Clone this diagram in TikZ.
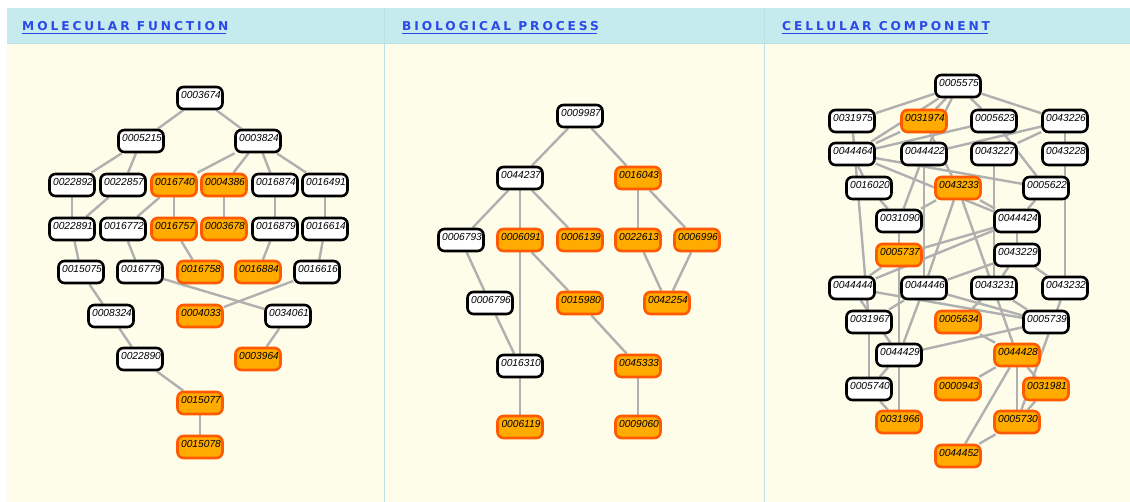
\documentclass[tikz,border=0pt]{standalone}
\usepackage{fontspec}
\setmainfont{Liberation Sans}
\newfontfamily\hdrfont[LetterSpace=24]{DejaVu Sans}

\pgfdeclarelayer{panel}
\pgfdeclarelayer{links}
\pgfsetlayers{panel,links,main}

\definecolor{hdrbg}{HTML}{C6EBEE}
\definecolor{bodybg}{HTML}{FDFDEA}
\definecolor{rulecol}{HTML}{BCE2E7}
\definecolor{linkblue}{HTML}{2B48E8}
\definecolor{edgegray}{HTML}{B0B0B0}
\definecolor{hitfill}{HTML}{FFAB00}
\definecolor{hitedge}{HTML}{FF5A00}

\tikzset{
  gobox/.style={rectangle, rounded corners=6pt, minimum width=45pt,
    minimum height=22pt, inner sep=0pt, line width=2.6pt},
  wbox/.style={gobox, draw=black, fill=white},
  obox/.style={gobox, draw=hitedge, fill=hitfill},
  golabel/.style={font=\fontsize{10.2}{11}\selectfont\itshape,
    inner sep=0pt, xshift=1pt, yshift=3.5pt},
  link/.style={draw=edgegray, line width=2.4pt},
  hdr/.style={font=\hdrfont\bfseries\fontsize{12.2}{14}\selectfont,
    text=linkblue, inner sep=0pt, anchor=base west},
  hdrline/.style={draw=linkblue, line width=1pt},
}

% \gonode{style}{panel prefix}{GO id}{x}{y}
\newcommand{\gonode}[5]{\node[#1, label={[golabel]center:#3}] (#2#3) at (#4,#5) {};}

\begin{document}
\begin{tikzpicture}[x=1pt,y=-1pt]
\useasboundingbox (0,0) rectangle (1130,502);

% ---------- panels ----------
\begin{pgfonlayer}{panel}
  \fill[white] (0,0) rectangle (1130,502);
  \fill[bodybg] (7,44) rectangle (1130,502);
  \fill[hdrbg] (7,8) rectangle (1130,44);
  \draw[rulecol, line width=1pt] (7,44) -- (1130,44);
  \draw[rulecol, line width=1pt] (384,8) -- (384,502);
  \draw[rulecol, line width=1pt] (764,8) -- (764,502);
\end{pgfonlayer}

\node[hdr] (hmf) at (22,31) {MOLECULAR FUNCTION};
\node[hdr] (hbp) at (402,31) {BIOLOGICAL PROCESS};
\node[hdr] (hcc) at (782,31) {CELLULAR COMPONENT};
\foreach \h in {hmf,hbp,hcc}
  \draw[hdrline] ([yshift=-2.5pt]\h.base west) -- ([yshift=-2.5pt,xshift=-2.5pt]\h.base east);

% ---------- molecular function ----------
\gonode{wbox}{mf}{0003674}{200}{98}
\gonode{wbox}{mf}{0005215}{141}{141}
\gonode{wbox}{mf}{0003824}{258}{141}
\gonode{wbox}{mf}{0022892}{72}{185}
\gonode{wbox}{mf}{0022857}{123}{185}
\gonode{obox}{mf}{0016740}{174}{185}
\gonode{obox}{mf}{0004386}{224}{185}
\gonode{wbox}{mf}{0016874}{275}{185}
\gonode{wbox}{mf}{0016491}{325}{185}
\gonode{wbox}{mf}{0022891}{72}{229}
\gonode{wbox}{mf}{0016772}{123}{229}
\gonode{obox}{mf}{0016757}{174}{229}
\gonode{obox}{mf}{0003678}{224}{229}
\gonode{wbox}{mf}{0016879}{275}{229}
\gonode{wbox}{mf}{0016614}{325}{229}
\gonode{wbox}{mf}{0015075}{81}{272}
\gonode{wbox}{mf}{0016779}{140}{272}
\gonode{obox}{mf}{0016758}{200}{272}
\gonode{obox}{mf}{0016884}{258}{272}
\gonode{wbox}{mf}{0016616}{317}{272}
\gonode{wbox}{mf}{0008324}{111}{316}
\gonode{obox}{mf}{0004033}{200}{316}
\gonode{wbox}{mf}{0034061}{288}{316}
\gonode{wbox}{mf}{0022890}{140}{359}
\gonode{obox}{mf}{0003964}{258}{359}
\gonode{obox}{mf}{0015077}{200}{403}
\gonode{obox}{mf}{0015078}{200}{447}

\begin{pgfonlayer}{links}
\foreach \a/\b in {0003674/0005215, 0003674/0003824,
    0005215/0022892, 0005215/0022857,
    0003824/0016740, 0003824/0004386, 0003824/0016874, 0003824/0016491,
    0022892/0022891, 0022857/0022891,
    0016740/0016772, 0016740/0016757,
    0004386/0003678, 0016874/0016879, 0016491/0016614,
    0022891/0015075, 0016772/0016779, 0016757/0016758,
    0016879/0016884, 0016614/0016616,
    0015075/0008324, 0016779/0034061, 0016616/0004033,
    0008324/0022890, 0034061/0003964,
    0022890/0015077, 0015077/0015078}
  \draw[link] (mf\a) -- (mf\b);
\end{pgfonlayer}

% ---------- biological process ----------
\gonode{wbox}{bp}{0009987}{580}{116}
\gonode{wbox}{bp}{0044237}{520}{178}
\gonode{obox}{bp}{0016043}{638}{178}
\gonode{wbox}{bp}{0006793}{461}{240}
\gonode{obox}{bp}{0006091}{520}{240}
\gonode{obox}{bp}{0006139}{580}{240}
\gonode{obox}{bp}{0022613}{638}{240}
\gonode{obox}{bp}{0006996}{697}{240}
\gonode{wbox}{bp}{0006796}{490}{303}
\gonode{obox}{bp}{0015980}{580}{303}
\gonode{obox}{bp}{0042254}{667}{303}
\gonode{wbox}{bp}{0016310}{520}{366}
\gonode{obox}{bp}{0045333}{638}{366}
\gonode{obox}{bp}{0006119}{520}{427}
\gonode{obox}{bp}{0009060}{638}{427}

\begin{pgfonlayer}{links}
\foreach \a/\b in {0009987/0044237, 0009987/0016043,
    0044237/0006793, 0044237/0006091, 0044237/0006139,
    0016043/0022613, 0016043/0006996,
    0006793/0006796, 0006091/0016310, 0006796/0016310, 0006091/0015980,
    0022613/0042254, 0006996/0042254,
    0015980/0045333, 0016310/0006119, 0045333/0009060}
  \draw[link] (bp\a) -- (bp\b);
\end{pgfonlayer}

% ---------- cellular component ----------
\gonode{wbox}{cc}{0005575}{958}{86}
\gonode{wbox}{cc}{0031975}{852}{121}
\gonode{obox}{cc}{0031974}{924}{121}
\gonode{wbox}{cc}{0005623}{994}{121}
\gonode{wbox}{cc}{0043226}{1065}{121}
\gonode{wbox}{cc}{0044464}{852}{154}
\gonode{wbox}{cc}{0044422}{924}{154}
\gonode{wbox}{cc}{0043227}{994}{154}
\gonode{wbox}{cc}{0043228}{1065}{154}
\gonode{wbox}{cc}{0016020}{869}{188}
\gonode{obox}{cc}{0043233}{958}{188}
\gonode{wbox}{cc}{0005622}{1046}{188}
\gonode{wbox}{cc}{0031090}{899}{221}
\gonode{wbox}{cc}{0044424}{1017}{221}
\gonode{obox}{cc}{0005737}{899}{255}
\gonode{wbox}{cc}{0043229}{1017}{255}
\gonode{wbox}{cc}{0044444}{852}{288}
\gonode{wbox}{cc}{0044446}{924}{288}
\gonode{wbox}{cc}{0043231}{994}{288}
\gonode{wbox}{cc}{0043232}{1065}{288}
\gonode{wbox}{cc}{0031967}{869}{322}
\gonode{obox}{cc}{0005634}{958}{322}
\gonode{wbox}{cc}{0005739}{1046}{322}
\gonode{wbox}{cc}{0044429}{899}{355}
\gonode{obox}{cc}{0044428}{1017}{355}
\gonode{wbox}{cc}{0005740}{869}{389}
\gonode{obox}{cc}{0000943}{958}{389}
\gonode{obox}{cc}{0031981}{1046}{389}
\gonode{obox}{cc}{0031966}{899}{422}
\gonode{obox}{cc}{0005730}{1017}{422}
\gonode{obox}{cc}{0044452}{958}{456}

\begin{pgfonlayer}{links}
\foreach \a/\b in {0005575/0031975, 0005575/0031974, 0005575/0005623,
    0005575/0043226, 0005575/0044464, 0005575/0044422,
    0031975/0031967, 0031974/0044464, 0031974/0043233,
    0005623/0044464, 0005623/0005622,
    0043226/0044422, 0043226/0043227, 0043226/0043228,
    0044464/0016020, 0044464/0005622, 0044464/0044424,
    0044422/0031090, 0044422/0044446,
    0043227/0043231, 0043228/0043232,
    0016020/0031090, 0043233/0031090, 0043233/0044446,
    0043233/0044428, 0043233/0044424,
    0031090/0031966, 0044424/0005622, 0044424/0005737,
    0044424/0043229, 0044424/0044444,
    0005737/0044444,
    0043229/0044446, 0043229/0043231, 0043229/0043232,
    0044444/0044429, 0044444/0005739,
    0044446/0044429, 0044446/0005739, 0031967/0044446,
    0043231/0005634, 0043231/0005739, 0043232/0005730,
    0031967/0005740, 0005634/0044428, 0005739/0044429,
    0044429/0005740, 0005740/0031966,
    0044428/0000943, 0044428/0031981, 0044428/0005730,
    0044428/0044452, 0031981/0005730, 0005730/0044452}
  \draw[link] (cc\a) -- (cc\b);
\end{pgfonlayer}

\end{tikzpicture}
\end{document}
